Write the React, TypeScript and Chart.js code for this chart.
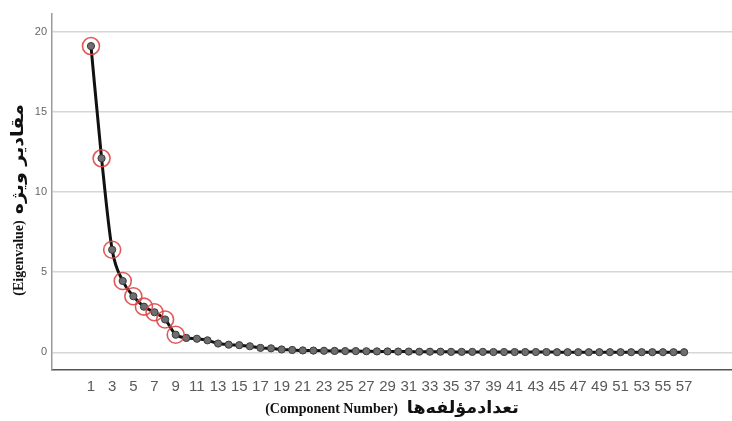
import React, { useEffect, useRef } from "react";
import { Chart, registerables } from "chart.js";

Chart.register(...registerables);

const componentNumbers: number[] = Array.from({ length: 57 }, (_, i) => i + 1);
const eigenvalues: number[] = [
  19.1, 12.1, 6.4, 4.45, 3.5, 2.85, 2.5, 2.05, 1.1, 0.9,
  0.85, 0.75, 0.55, 0.48, 0.45, 0.38, 0.28, 0.25, 0.18, 0.15,
  0.12, 0.11, 0.1, 0.09, 0.08, 0.08, 0.07, 0.06, 0.06, 0.05,
  0.05, 0.04, 0.04, 0.04, 0.03, 0.03, 0.03, 0.03, 0.02, 0.02,
  0.02, 0.02, 0.02, 0.02, 0.01, 0.01, 0.01, 0.01, 0.01, 0.01,
  0.01, 0.01, 0.01, 0.01, 0.01, 0.01, 0.01,
];
const highlightedCount = 9;
const xTickValues: number[] = componentNumbers.filter((n) => n % 2 === 1);
const yTickValues: number[] = [0, 5, 10, 15, 20];
const xTitleLatin = "(Component Number)";
const xTitlePersian = "تعدادمؤلفه‌ها";
const yTitleLatin = "(Eigenvalue)";
const yTitlePersian = "مقادیر ویژه";

const LATIN_FONT = "bold 14px 'Liberation Serif', 'Times New Roman', serif";
const PERSIAN_FONT = "bold 17px 'DejaVu Sans', sans-serif";

function drawMixedTitle(
  ctx: CanvasRenderingContext2D,
  cx: number,
  cy: number,
  rotation: number,
  latin: string,
  persian: string,
  persianWidth: number,
  gap: number
) {
  ctx.save();
  ctx.translate(cx, cy);
  ctx.rotate(rotation);
  ctx.fillStyle = "#111111";
  ctx.textBaseline = "middle";
  ctx.textAlign = "left";
  ctx.font = LATIN_FONT;
  const wl = ctx.measureText(latin).width;
  ctx.font = PERSIAN_FONT;
  const wpRaw = ctx.measureText(persian).width;
  const sx = persianWidth / wpRaw;
  const total = wl + gap + persianWidth;
  const start = -total / 2;
  ctx.font = LATIN_FONT;
  ctx.fillText(latin, start, 0);
  ctx.font = PERSIAN_FONT;
  ctx.save();
  ctx.translate(start + wl + gap, 0);
  ctx.scale(sx, 1);
  ctx.fillText(persian, 0, 0);
  ctx.restore();
  ctx.restore();
}

const axisTitlesPlugin = {
  id: "axisTitles",
  afterDraw(chart: any) {
    const ctx = chart.ctx as CanvasRenderingContext2D;
    const area = chart.chartArea;
    drawMixedTitle(ctx, (area.left + area.right) / 2, 409, 0, xTitleLatin, xTitlePersian, 112, 9);
    drawMixedTitle(ctx, 19, 200, -Math.PI / 2, yTitleLatin, yTitlePersian, 110, 6);
  },
};

export default function App() {
  const ref = useRef<HTMLCanvasElement | null>(null);

  useEffect(() => {
    if (!ref.current) return;
    const mainData = componentNumbers.map((n, i) => ({ x: n, y: eigenvalues[i] }));
    const ringData = mainData.slice(0, highlightedCount);
    const chart = new Chart(ref.current, {
      type: "line",
      data: {
        datasets: [
          {
            data: ringData,
            showLine: false,
            pointRadius: 8.5,
            pointHoverRadius: 8.5,
            pointBorderColor: "rgba(222,70,70,0.9)",
            pointBorderWidth: 1.6,
            pointBackgroundColor: "rgba(0,0,0,0)",
          },
          {
            data: mainData,
            borderColor: "#111111",
            borderWidth: 3,
            cubicInterpolationMode: "monotone",
            pointRadius: 3.6,
            pointBackgroundColor: "#6e6e6e",
            pointBorderColor: "#3a3a3a",
            pointBorderWidth: 1,
          },
        ],
      },
      options: {
        responsive: false,
        animation: false,
        layout: { autoPadding: false, padding: { top: 14, left: 0, right: 0, bottom: 0 } },
        plugins: { legend: { display: false }, tooltip: { enabled: false } },
        scales: {
          x: {
            type: "linear",
            min: -2.68,
            max: 61.52,
            afterBuildTicks: (scale: any) => {
              scale.ticks = xTickValues.map((v) => ({ value: v }));
            },
            afterFit: (scale: any) => {
              scale.height = 51;
            },
            grid: { drawOnChartArea: false, drawTicks: false, color: "rgba(0,0,0,0)" },
            border: { display: true, color: "#555555", width: 1.5 },
            ticks: {
              autoSkip: false,
              maxRotation: 0,
              minRotation: 0,
              padding: 8,
              color: "#5a5a5a",
              font: { family: "'Liberation Sans', Arial, sans-serif", size: 15 },
              callback: (v: any) => String(v),
            },
          },
          y: {
            type: "linear",
            min: -1.1,
            max: 21.1,
            afterBuildTicks: (scale: any) => {
              scale.ticks = yTickValues.map((v) => ({ value: v }));
            },
            afterFit: (scale: any) => {
              scale.width = 52;
            },
            grid: { color: "#d6d6d6", lineWidth: 1.5, drawTicks: false },
            border: { display: true, color: "#9a9a9a", width: 1.5 },
            ticks: {
              padding: 5,
              color: "#666666",
              font: { family: "'Liberation Sans', Arial, sans-serif", size: 11 },
              callback: (v: any) => String(v),
            },
          },
        },
      },
      plugins: [axisTitlesPlugin],
    });
    return () => chart.destroy();
  }, []);

  return (
    <div style={{ position: "fixed", left: 0, top: 0, width: 732, height: 421, background: "#ffffff" }}>
      <canvas ref={ref} width={732} height={421} style={{ display: "block" }} />
    </div>
  );
}
